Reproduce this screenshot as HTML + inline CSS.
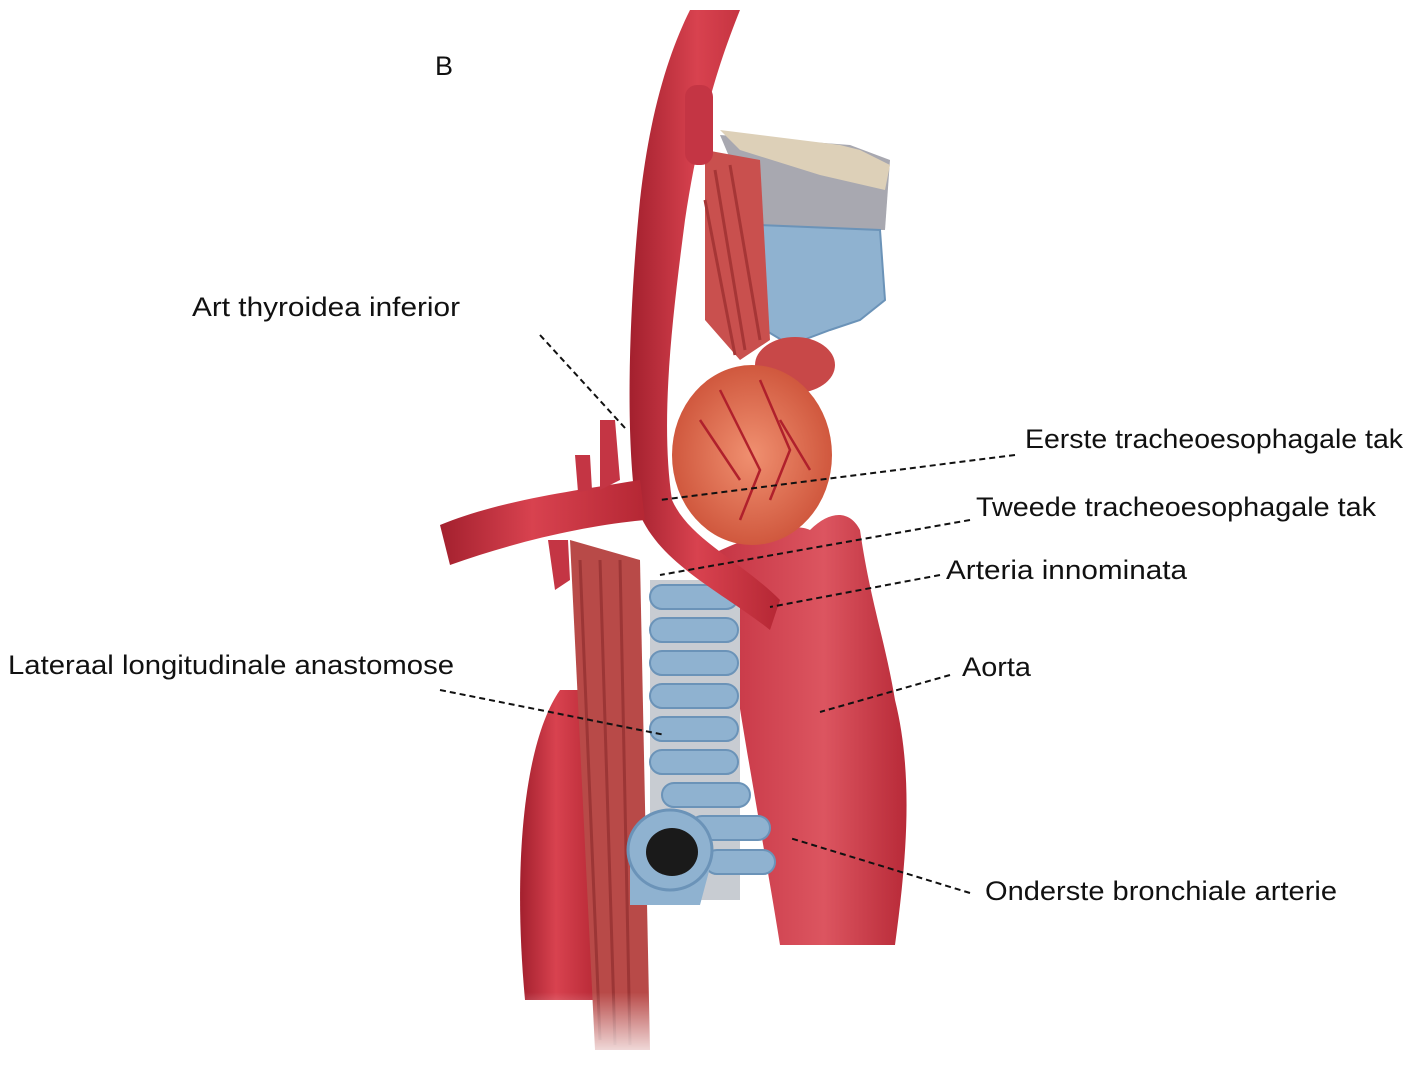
<!DOCTYPE html>
<html><head><meta charset="utf-8"><style>
html,body{margin:0;padding:0;background:#fff}
svg{display:block}
text{font-family:"Liberation Sans",sans-serif;font-size:27px;fill:#111}
</style></head><body>
<svg width="1420" height="1066" viewBox="0 0 1420 1066" xmlns="http://www.w3.org/2000/svg">
<defs>
<linearGradient id="art" x1="0" x2="1"><stop offset="0" stop-color="#a3202e"/><stop offset="0.45" stop-color="#d8424f"/><stop offset="1" stop-color="#b52734"/></linearGradient>
<linearGradient id="aorta" x1="0" x2="1"><stop offset="0" stop-color="#c23040"/><stop offset="0.6" stop-color="#dc5560"/><stop offset="1" stop-color="#b82a38"/></linearGradient>
<linearGradient id="fadeB" x1="0" y1="0" x2="0" y2="1"><stop offset="0.7" stop-color="#fff" stop-opacity="0"/><stop offset="1" stop-color="#fff" stop-opacity="1"/></linearGradient>
<radialGradient id="thy"><stop offset="0" stop-color="#f09070"/><stop offset="1" stop-color="#d0583e"/></radialGradient>
</defs>
<text x="435" y="75" font-size="30">B</text>
<!-- descending left vessel -->
<path d="M560 690 C525 740 512 860 525 1000 L600 1000 L600 690 Z" fill="url(#art)"/>
<!-- esophagus muscle strip -->
<path d="M570 540 L640 560 L650 1050 L595 1050 Z" fill="#b84a48"/>
<path d="M580 560 L600 1040 M600 560 L615 1045 M620 560 L630 1045" stroke="#9c3636" stroke-width="3" fill="none"/>
<!-- aorta -->
<path d="M700 560 C740 540 790 520 810 530 C830 510 850 510 860 530 C870 600 885 640 895 700 C915 780 905 870 895 945 L780 945 C765 850 740 720 730 640 Z" fill="url(#aorta)"/>
<!-- trachea -->
<rect x="650" y="580" width="90" height="320" fill="#c8ccd2"/>
<g fill="#8fb2d0" stroke="#6b93b8" stroke-width="2">
<rect x="650" y="585" width="88" height="24" rx="12"/><rect x="650" y="618" width="88" height="24" rx="12"/>
<rect x="650" y="651" width="88" height="24" rx="12"/><rect x="650" y="684" width="88" height="24" rx="12"/>
<rect x="650" y="717" width="88" height="24" rx="12"/><rect x="650" y="750" width="88" height="24" rx="12"/>
<rect x="662" y="783" width="88" height="24" rx="12"/><rect x="690" y="816" width="80" height="24" rx="12"/>
<rect x="705" y="850" width="70" height="24" rx="12"/>
</g>
<path d="M630 850 L630 905 L700 905 L712 860" fill="#8fb2d0"/>
<ellipse cx="670" cy="850" rx="42" ry="40" fill="#8fb2d0" stroke="#6b93b8" stroke-width="3"/>
<ellipse cx="672" cy="852" rx="26" ry="24" fill="#1a1a1a"/>
<!-- top fibrous + beige -->
<path d="M720 135 L850 145 L890 160 L885 230 L760 230 Z" fill="#a8a8b0"/>
<path d="M720 130 L840 145 L860 150 L890 165 L885 190 L820 175 L740 150 Z" fill="#ddd0b8"/>
<!-- larynx -->
<path d="M760 225 L880 230 L885 300 L860 320 L830 330 L790 345 L765 330 Z" fill="#8fb2d0" stroke="#6b93b8" stroke-width="2"/>
<ellipse cx="795" cy="365" rx="40" ry="28" fill="#c84848"/>
<!-- muscles -->
<path d="M705 150 L760 160 L770 340 L740 360 L705 320 Z" fill="#c9504e"/>
<path d="M715 170 L745 350 M730 165 L760 340 M705 200 L735 355" stroke="#a63636" stroke-width="3"/>
<!-- thyroid -->
<ellipse cx="752" cy="455" rx="80" ry="90" fill="url(#thy)"/>
<path d="M720 390 L760 470 L740 520 M760 380 L790 450 L770 500 M700 420 L740 480 M780 420 L810 470" stroke="#b0202c" stroke-width="2.5" fill="none"/>
<!-- carotid -->
<path d="M690 10 L740 10 C720 60 700 120 685 220 C672 320 660 420 672 500 C690 540 740 560 780 600 L770 630 C720 590 650 560 635 500 C625 420 630 300 640 200 C650 110 670 50 690 10 Z" fill="url(#art)"/>
<rect x="685" y="85" width="28" height="80" rx="12" fill="#c43544"/>
<!-- subclavian -->
<path d="M440 525 C500 500 580 490 640 480 L645 520 C590 525 520 540 450 565 Z" fill="url(#art)"/>
<path d="M600 420 L615 420 L620 480 L600 490 Z M575 455 L590 455 L592 490 L578 492 Z M548 540 L568 540 L570 580 L555 590 Z" fill="#c43544"/>
<!-- fade bottom -->
<rect x="500" y="820" width="420" height="246" fill="url(#fadeB)"/>
<!-- labels -->
<text x="192" y="316" textLength="268" lengthAdjust="spacingAndGlyphs">Art thyroidea inferior</text>
<text x="1025" y="448" textLength="378" lengthAdjust="spacingAndGlyphs">Eerste tracheoesophagale tak</text>
<text x="976" y="516" textLength="400" lengthAdjust="spacingAndGlyphs">Tweede tracheoesophagale tak</text>
<text x="946" y="579" textLength="241" lengthAdjust="spacingAndGlyphs">Arteria innominata</text>
<text x="8" y="674" textLength="446" lengthAdjust="spacingAndGlyphs">Lateraal longitudinale anastomose</text>
<text x="962" y="676" textLength="69" lengthAdjust="spacingAndGlyphs">Aorta</text>
<text x="985" y="900" textLength="352" lengthAdjust="spacingAndGlyphs">Onderste bronchiale arterie</text>
<g stroke="#111" stroke-width="2" stroke-dasharray="6,4" fill="none">
<path d="M540 335 L625 428"/>
<path d="M1015 455 L660 500"/>
<path d="M970 520 L660 575"/>
<path d="M940 575 L770 607"/>
<path d="M440 690 L665 735"/>
<path d="M950 675 L820 712"/>
<path d="M970 893 L790 838"/>
</g>
</svg>
</body></html>
